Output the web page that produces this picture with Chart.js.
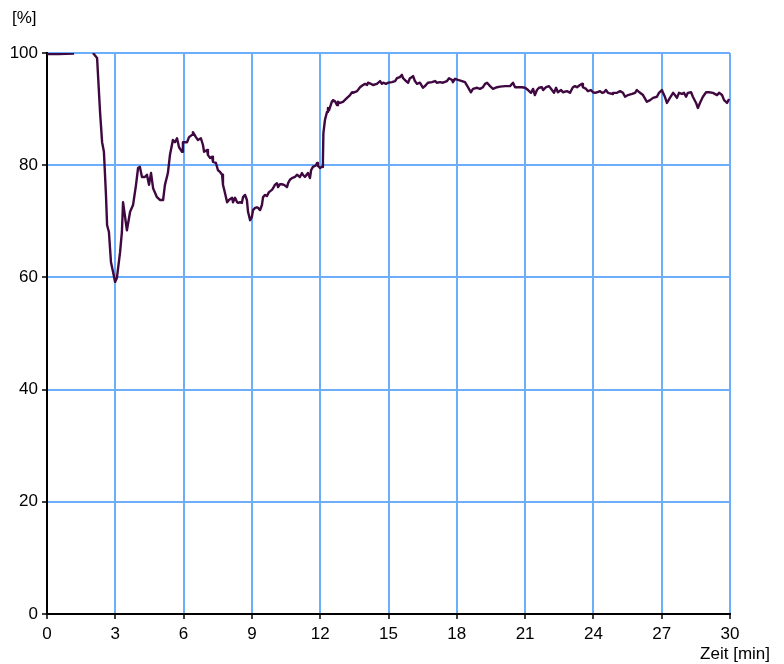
<!DOCTYPE html>
<html>
<head>
<meta charset="utf-8">
<script src="https://cdn.jsdelivr.net/npm/chart.js@4/dist/chart.umd.min.js"></script>
<style>
  html, body { margin: 0; padding: 0; background: #fff; }
  canvas { display: block; }
</style>
</head>
<body>
<canvas id="verlaufCanvas" width="784" height="664"></canvas>
<script>
// time axis in minutes
const zeit = [
  0, 0.5, 1.19, 1.6,
  2.02, 2.20, 2.33, 2.42, 2.50, 2.59, 2.64, 2.72, 2.81, 2.90,
  2.99, 3.07, 3.21, 3.29, 3.34, 3.38, 3.51, 3.65, 3.78, 3.91,
  4.00, 4.08, 4.17, 4.30, 4.39, 4.48, 4.57, 4.66, 4.83, 4.96,
  5.10, 5.18, 5.31, 5.40, 5.53, 5.62, 5.71, 5.80, 5.93, 5.97,
  6.15, 6.24, 6.37, 6.41, 6.54, 6.63, 6.76, 6.85, 6.90, 7.03,
  7.07, 7.16, 7.25, 7.29, 7.42, 7.51, 7.60, 7.69, 7.73, 7.82,
  7.91, 7.99, 8.13, 8.17, 8.26, 8.35, 8.39, 8.48, 8.56, 8.61,
  8.70, 8.78, 8.83, 8.92, 9.00, 9.05, 9.14, 9.22, 9.27, 9.36,
  9.44, 9.49, 9.58, 9.66, 9.75, 9.88, 9.93, 10.01, 10.10, 10.15,
  10.23, 10.32, 10.41, 10.54, 10.59, 10.67, 10.76, 10.89, 10.98, 11.11,
  11.20, 11.24, 11.33, 11.42, 11.46, 11.55, 11.60, 11.68, 11.82, 11.86,
  11.90, 11.99, 12.08, 12.12, 12.14, 12.21, 12.30, 12.34, 12.39, 12.52,
  12.56, 12.65, 12.74, 12.78, 12.87, 13.00, 13.18, 13.31, 13.40, 13.44,
  13.62, 13.75, 13.88, 13.97, 14.06, 14.10, 14.23, 14.32, 14.49, 14.63,
  14.71, 14.76, 14.89, 14.98, 15.15, 15.29, 15.37, 15.50, 15.59, 15.64,
  15.77, 15.86, 15.94, 16.03, 16.08, 16.16, 16.25, 16.38, 16.47, 16.51,
  16.60, 16.73, 16.91, 17.04, 17.13, 17.26, 17.39, 17.57, 17.66, 17.79,
  17.83, 17.92, 18.05, 18.23, 18.36, 18.49, 18.62, 18.71, 18.89, 19.02,
  19.15, 19.24, 19.33, 19.46, 19.59, 19.77, 19.90, 20.12, 20.34, 20.47,
  20.56, 20.69, 20.86, 21.00, 21.13, 21.26, 21.35, 21.43, 21.52, 21.61,
  21.74, 21.79, 21.92, 22.05, 22.18, 22.27, 22.36, 22.44, 22.58, 22.66,
  22.84, 22.97, 23.10, 23.19, 23.28, 23.41, 23.50, 23.54, 23.68, 23.76,
  23.89, 23.98, 24.07, 24.16, 24.29, 24.38, 24.47, 24.55, 24.64, 24.82,
  24.86, 25.04, 25.17, 25.30, 25.39, 25.52, 25.70, 25.83, 25.91, 26.05,
  26.18, 26.35, 26.49, 26.62, 26.79, 26.88, 27.01, 27.06, 27.14, 27.23,
  27.36, 27.50, 27.58, 27.67, 27.76, 27.89, 27.98, 28.07, 28.15, 28.29,
  28.37, 28.51, 28.59, 28.68, 28.81, 28.95, 29.08, 29.25, 29.43, 29.52,
  29.65, 29.74, 29.87, 29.96
];

// percent values, null = gap in the recording
const prozent = [
  99.8, 99.8, 99.9, null,
  100, 99.1, 89.5, 84.1, 82.4, 74.7, 69.3, 68.1, 62.7, 61.0,
  59.2, 59.9, 64.5, 68.1, 73.4, 73.4, 68.4, 71.7, 72.9, 76.5,
  79.5, 79.7, 77.9, 77.9, 78.3, 76.5, 78.6, 75.9, 74.3, 73.8,
  73.8, 76.5, 78.6, 81.8, 84.5, 84.1, 84.8, 83.2, 82.4, 84.1,
  84.1, 85.0, 85.4, 85.9, 85.0, 84.5, 84.8, 83.6, 82.4, 82.7,
  81.8, 81.3, 81.5, 80.6, 80.4, 79.1, 78.8, 78.3, 76.5, 75.0,
  73.4, 73.8, 74.2, 73.4, 74.2, 73.4, 73.3, 73.4, 73.3, 74.3,
  74.7, 73.8, 71.7, 70.2, 70.8, 72.0, 72.4, 72.5, 72.4, 72.0,
  72.9, 74.3, 74.7, 74.5, 75.2, 75.6, 75.9, 76.5, 76.8, 76.1,
  76.6, 76.6, 76.5, 76.1, 76.8, 77.4, 77.7, 77.9, 78.3, 77.9,
  78.6, 78.3, 77.9, 78.4, 78.6, 77.7, 79.1, 79.7, 80.0, 80.4,
  79.9, 79.5, 79.7, 80.9, 85.7, 88.1, 89.5, 90.2, 89.8, 91.4,
  91.6, 91.4, 90.7, 91.3, 91.1, 91.3, 92.0, 92.5, 93.0, 92.9,
  93.2, 93.9, 94.3, 94.5, 94.3, 94.7, 94.5, 94.3, 94.5, 95.0,
  94.5, 94.7, 94.5, 94.7, 94.8, 95.0, 95.5, 95.7, 96.1, 95.5,
  95.0, 94.7, 95.5, 95.7, 95.9, 95.0, 94.5, 94.7, 94.1, 93.8,
  94.1, 94.7, 94.8, 95.0, 94.7, 94.8, 94.7, 95.0, 95.5, 95.2,
  94.8, 95.4, 95.2, 95.0, 94.8, 93.9, 93.0, 93.6, 93.8, 93.6,
  93.9, 94.5, 94.7, 94.1, 93.6, 93.9, 94.0, 94.1, 94.1, 94.7,
  93.9, 93.9, 93.9, 93.8, 93.4, 92.9, 93.6, 92.5, 93.4, 93.8,
  93.9, 93.4, 93.9, 94.1, 93.4, 92.9, 93.8, 93.0, 93.4, 93.0,
  93.2, 92.9, 93.9, 94.1, 93.9, 94.3, 94.5, 93.9, 93.6, 93.2,
  93.4, 93.0, 92.9, 93.0, 93.2, 92.9, 93.0, 93.4, 92.9, 92.7,
  92.9, 92.9, 93.2, 92.9, 92.2, 92.5, 92.7, 92.9, 93.4, 92.9,
  92.5, 91.3, 91.6, 92.0, 92.2, 92.9, 93.4, 92.9, 92.2, 91.1,
  92.0, 92.9, 92.5, 92.0, 92.9, 92.7, 92.9, 92.2, 92.9, 93.0,
  92.2, 91.1, 90.2, 91.1, 92.2, 93.0, 93.0, 92.9, 92.5, 92.9,
  92.5, 91.6, 91.1, 91.8
];

const xTicks = [0, 3, 6, 9, 12, 15, 18, 21, 24, 27, 30];
const yTicks = [0, 20, 40, 60, 80, 100];
const yEinheit = '[%]';
const xTitel = 'Zeit [min]';

const GRID_BLUE = '#6aaefc';
const LINE_COLOR = '#3f0840';
const FONT = { family: 'Arial, "Liberation Sans", sans-serif', size: 17 };

// draws the unit label top left and the axis title bottom right
const axisLabels = {
    id: 'axisLabels',
    afterDraw(chart) {
        const c = chart.ctx;
        c.save();
        c.fillStyle = '#000';
        c.font = '17px Arial, "Liberation Sans", sans-serif';
        c.textBaseline = 'middle';
        c.textAlign = 'left';
        c.fillText(yEinheit, 12, 18);
        c.textAlign = 'right';
        c.fillText(xTitel, 770, 654);
        c.restore();
    }
};

document.addEventListener('DOMContentLoaded', function() {
    const ctx = document.getElementById('verlaufCanvas').getContext('2d');
    new Chart(ctx, {
        type: 'line',
        data: {
            datasets: [{
                data: zeit.map((t, i) => ({ x: t, y: prozent[i] })),
                borderColor: LINE_COLOR,
                borderWidth: 2.4,
                pointRadius: 0,
                tension: 0,
                spanGaps: false,
                borderJoinStyle: 'round'
            }]
        },
        options: {
            responsive: false,
            animation: false,
            layout: { padding: { left: 0, top: 53, right: 54, bottom: 0 } },
            plugins: {
                legend: { display: false },
                tooltip: { enabled: false }
            },
            scales: {
                x: {
                    type: 'linear',
                    min: 0,
                    max: 30,
                    afterBuildTicks: s => { s.ticks = xTicks.map(v => ({ value: v })); },
                    afterFit: s => { s.height = 50; },
                    grid: {
                        color: GRID_BLUE,
                        lineWidth: 2,
                        tickColor: '#000',
                        tickLength: 5,
                        tickWidth: 1.5
                    },
                    border: { color: '#000', width: 2 },
                    ticks: { color: '#000', font: FONT, padding: 5, maxRotation: 0 }
                },
                y: {
                    min: 0,
                    max: 100,
                    afterBuildTicks: s => { s.ticks = yTicks.map(v => ({ value: v })); },
                    afterFit: s => { s.width = 47; },
                    grid: {
                        color: GRID_BLUE,
                        lineWidth: 2,
                        tickColor: '#000',
                        tickLength: 5,
                        tickWidth: 1.5
                    },
                    border: { color: '#000', width: 2 },
                    ticks: { color: '#000', font: FONT, padding: 4 }
                }
            }
        },
        plugins: [axisLabels]
    });
});
</script>
</body>
</html>
